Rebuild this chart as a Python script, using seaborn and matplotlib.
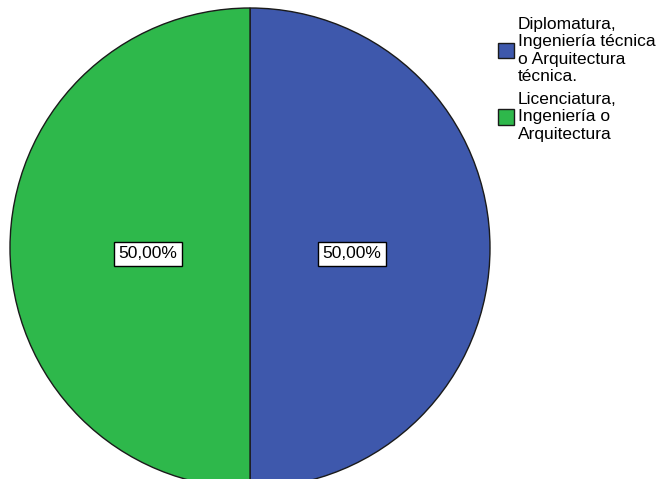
import matplotlib
matplotlib.use("Agg")
import matplotlib.pyplot as plt
import seaborn as sns

# data
categories = ["Diplomatura,\nIngeniería técnica\no Arquitectura\ntécnica.",
              "Licenciatura,\nIngeniería o\nArquitectura"]
percentages = [50.0, 50.0]
colors = ["#3E58AC", "#2EB84B"]

sns.set_theme(style="white")
plt.rcParams['font.family'] = ['Liberation Sans', 'DejaVu Sans']
plt.rcParams['text.color'] = 'black'

fig = plt.figure(figsize=(6.59, 4.79), dpi=100)
ax = fig.add_axes([0, 0, 1, 1])

# pie in pixel coords (center 250,248 from top)
wedges, texts, autotexts = ax.pie(
    percentages, colors=colors, startangle=90, counterclock=False,
    center=(250, 479 - 248), radius=240, frame=True,
    autopct=lambda p: f"{p:.2f}%".replace(".", ","), pctdistance=0.425,
    wedgeprops=dict(edgecolor="#1a1a1a", linewidth=1.0),
    textprops=dict(fontsize=12.5, color="black"))
ax.set_xlim(0, 659)
ax.set_ylim(0, 479)
ax.set_aspect("equal")
ax.axis("off")
for t in autotexts:
    x, y = t.get_position()
    t.set_position((x, y - 6))
    t.set_bbox(dict(facecolor="white", edgecolor="black", linewidth=1, pad=3))

leg = fig.legend(wedges, categories, loc="upper left", bbox_to_anchor=(0.745, 0.979),
                 frameon=False, fontsize=12.5, handlelength=0.95, handleheight=1.0,
                 handletextpad=0.2, labelspacing=0.45, borderaxespad=0)
for txt in leg.get_texts():
    txt.set_linespacing(1.2)
    txt.set_color("black")

fig.savefig("out.png", dpi=100)
